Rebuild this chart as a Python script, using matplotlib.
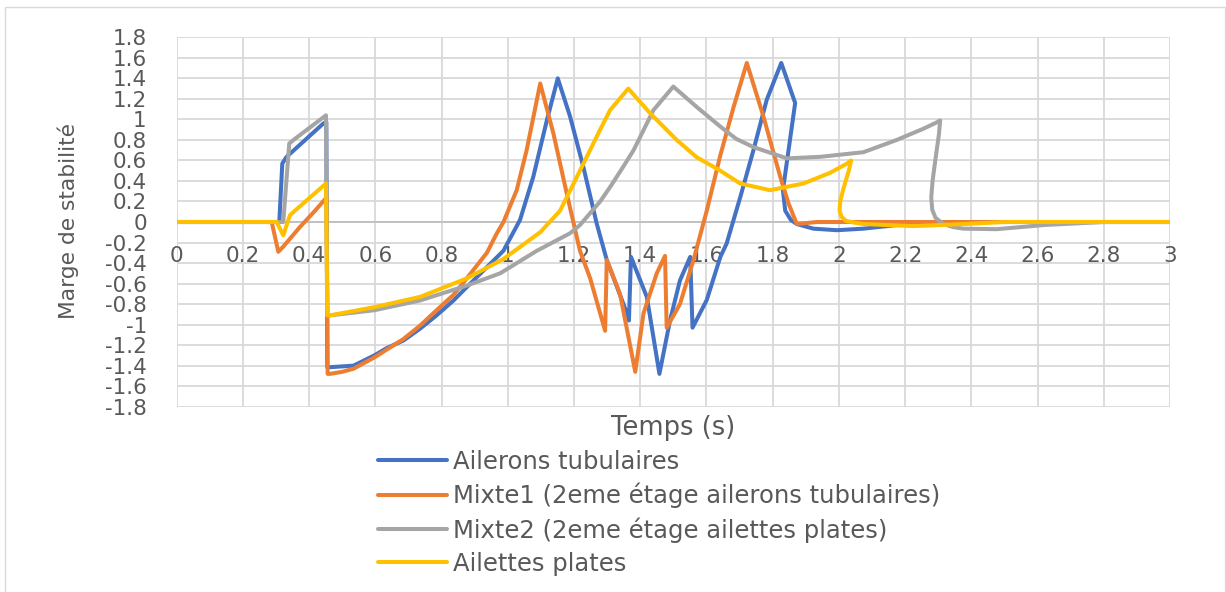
"""
Marge de stabilité vs temps — 4 configurations d'ailerons (style graphique Excel).
"""
import numpy as np
import matplotlib
matplotlib.use("Agg")
import matplotlib.pyplot as plt
from matplotlib import font_manager
from matplotlib.patches import Rectangle

# --- données ---
t_tub = [0, 0.31, 0.319, 0.332, 0.443, 0.452, 0.455, 0.463, 0.534, 0.597, 0.634, 0.685,
         0.735, 0.785, 0.836, 0.876, 0.937, 0.987, 1.037, 1.077, 1.118, 1.151, 1.188,
         1.228, 1.269, 1.299, 1.36, 1.366, 1.372, 1.42, 1.458, 1.49, 1.52, 1.551, 1.558,
         1.601, 1.642, 1.661, 1.702, 1.742, 1.782, 1.826, 1.868, 1.848, 1.831, 1.838,
         1.855, 1.873, 1.923, 1.994, 2.074, 2.175, 2.3, 2.4, 3.0]
m_tub = [0, 0, 0.57, 0.635, 0.96, 0.975, -1.415, -1.415, -1.40, -1.30, -1.23, -1.155,
         -1.04, -0.91, -0.765, -0.635, -0.44, -0.28, 0.02, 0.44, 0.99, 1.40, 1.03,
         0.54, -0.02, -0.37, -0.89, -0.96, -0.34, -0.73, -1.48, -0.96, -0.57, -0.34, -1.03,
         -0.76, -0.34, -0.21, 0.24, 0.70, 1.19, 1.55, 1.16, 0.70, 0.31, 0.11,
         0.02, -0.02, -0.065, -0.08, -0.065, -0.03, -0.01, 0, 0]

t_mix1 = [0, 0.287, 0.307, 0.322, 0.372, 0.418, 0.453, 0.456, 0.463, 0.50, 0.534, 0.597,
          0.685, 0.735, 0.785, 0.836, 0.876, 0.937, 0.967, 0.987, 1.027, 1.057, 1.098,
          1.138, 1.178, 1.218, 1.249, 1.294, 1.299, 1.339, 1.385, 1.41, 1.45, 1.475, 1.48,
          1.52, 1.561, 1.601, 1.642, 1.682, 1.722, 1.772, 1.823, 1.848, 1.873, 1.933, 3.0]
m_mix1 = [0, 0, -0.29, -0.24, -0.05, 0.11, 0.24, -1.48, -1.48, -1.46, -1.43, -1.32,
          -1.14, -1.01, -0.86, -0.71, -0.55, -0.30, -0.11, 0.0, 0.31, 0.70, 1.35,
          0.86, 0.28, -0.28, -0.55, -1.06, -0.37, -0.70, -1.46, -0.89, -0.50, -0.33, -1.03,
          -0.80, -0.37, 0.11, 0.65, 1.12, 1.55, 1.03, 0.44, 0.18, -0.02, 0.0, 0]

t_mix2 = [0, 0.322, 0.34, 0.357, 0.451, 0.455, 0.463, 0.597, 0.735, 0.876, 0.977, 1.088,
          1.188, 1.218, 1.279, 1.309, 1.349, 1.38, 1.44, 1.50, 1.571, 1.642, 1.69, 1.742,
          1.843, 1.943, 2.074, 2.175, 2.256, 2.295, 2.306, 2.302, 2.292, 2.283, 2.279,
          2.282, 2.292, 2.316, 2.345, 2.376, 2.477, 2.618, 2.8, 3.0]
m_mix2 = [0, 0, 0.765, 0.81, 1.04, -0.91, -0.91, -0.86, -0.765, -0.62, -0.50, -0.28,
          -0.11, -0.03, 0.20, 0.34, 0.54, 0.70, 1.09, 1.32, 1.12, 0.93, 0.81, 0.73,
          0.62, 0.635, 0.68, 0.80, 0.91, 0.97, 0.99, 0.85, 0.62, 0.40, 0.24,
          0.12, 0.04, -0.02, -0.05, -0.065, -0.07, -0.03, 0, 0]

t_plat = [0, 0.302, 0.322, 0.342, 0.357, 0.451, 0.455, 0.463, 0.597, 0.735, 0.876, 0.987,
          1.098, 1.158, 1.218, 1.279, 1.309, 1.364, 1.43, 1.51, 1.571, 1.642, 1.702, 1.792,
          1.893, 1.974, 2.025, 2.037, 2.03, 2.015, 2.004, 2.002, 2.008, 2.022, 2.054,
          2.074, 2.225, 2.376, 2.5, 3.0]
m_plat = [0, 0, -0.13, 0.065, 0.11, 0.375, -0.91, -0.91, -0.83, -0.73, -0.55, -0.36,
          -0.10, 0.11, 0.50, 0.90, 1.09, 1.30, 1.06, 0.80, 0.63, 0.50, 0.375, 0.31,
          0.375, 0.48, 0.57, 0.60, 0.50, 0.34, 0.20, 0.11, 0.05, 0.01, -0.01,
          -0.02, -0.04, -0.02, 0, 0]

LABELS = ["Ailerons tubulaires",
          "Mixte1 (2eme étage ailerons tubulaires)",
          "Mixte2 (2eme étage ailettes plates)",
          "Ailettes plates"]
COLORS = ["#4472C4", "#ED7D31", "#A5A5A5", "#FFC000"]

XTICKS = np.round(np.arange(0, 3.01, 0.2), 1)
YTICKS = np.round(np.arange(-1.8, 1.81, 0.2), 1)

TXT = "#595959"
GRID = "#D9D9D9"


def _fmt(v):
    return f"{v + 0.0:g}"


def main():
    plt.rcParams["font.family"] = ["DejaVu Sans"]
    plt.rcParams["axes.unicode_minus"] = False

    names = {f.name for f in font_manager.fontManager.ttflist}
    if "Liberation Sans Narrow" in names:
        yl_font, yl_size = ["Liberation Sans Narrow", "DejaVu Sans"], 22.5
    else:
        yl_font, yl_size = ["DejaVu Sans"], 15.7

    fig = plt.figure(figsize=(12.26, 5.92), dpi=100)
    ax = fig.add_axes([0.1441, 0.313, 0.9543 - 0.1441, 0.937 - 0.313])

    for t, m, lab, c in zip([t_tub, t_mix1, t_mix2, t_plat],
                            [m_tub, m_mix1, m_mix2, m_plat], LABELS, COLORS):
        ax.plot(t, m, color=c, lw=2.9, label=lab, solid_joinstyle="round",
                solid_capstyle="round", zorder=3)

    ax.set_xlim(0, 3)
    ax.set_ylim(-1.8, 1.8)
    ax.set_xticks(XTICKS)
    ax.set_xticklabels([_fmt(v) for v in XTICKS])
    ax.set_yticks(YTICKS)
    ax.set_yticklabels([_fmt(v) for v in YTICKS])
    ax.grid(True, color=GRID, lw=1.3, zorder=0)
    ax.set_axisbelow(True)
    ax.axhline(0, color="#BFBFBF", lw=1.3, zorder=1)
    for s in ax.spines.values():
        s.set_visible(False)
    ax.spines["bottom"].set_position(("data", 0))
    ax.tick_params(axis="x", length=0, pad=17, labelsize=15.5, labelcolor=TXT)
    ax.tick_params(axis="y", length=0, pad=21.5, labelsize=15.5, labelcolor=TXT)

    fig.text(673.5 / 1226, 1 - 428 / 592, "Temps (s)", ha="center", va="center",
             fontsize=18.5, color=TXT)
    fig.text(68 / 1226, 1 - 221 / 592, "Marge de stabilité", ha="center", va="center",
             rotation=90, fontsize=yl_size, family=yl_font, color=TXT)

    fig.legend(loc="upper left", bbox_to_anchor=(378 / 1226, 1 - 450 / 592),
               frameon=False, fontsize=17.5, handlelength=2.82, handletextpad=0.27,
               labelspacing=0.37, borderpad=0, borderaxespad=0, labelcolor=TXT)

    fig.patches.append(Rectangle((5.5 / 1226, -0.05), (1225 - 5.5) / 1226,
                                 1.05 - 7 / 592, transform=fig.transFigure,
                                 fill=False, ec=GRID, lw=1.0))

    fig.savefig("out.png", dpi=100)
    plt.close(fig)


if __name__ == "__main__":
    main()
